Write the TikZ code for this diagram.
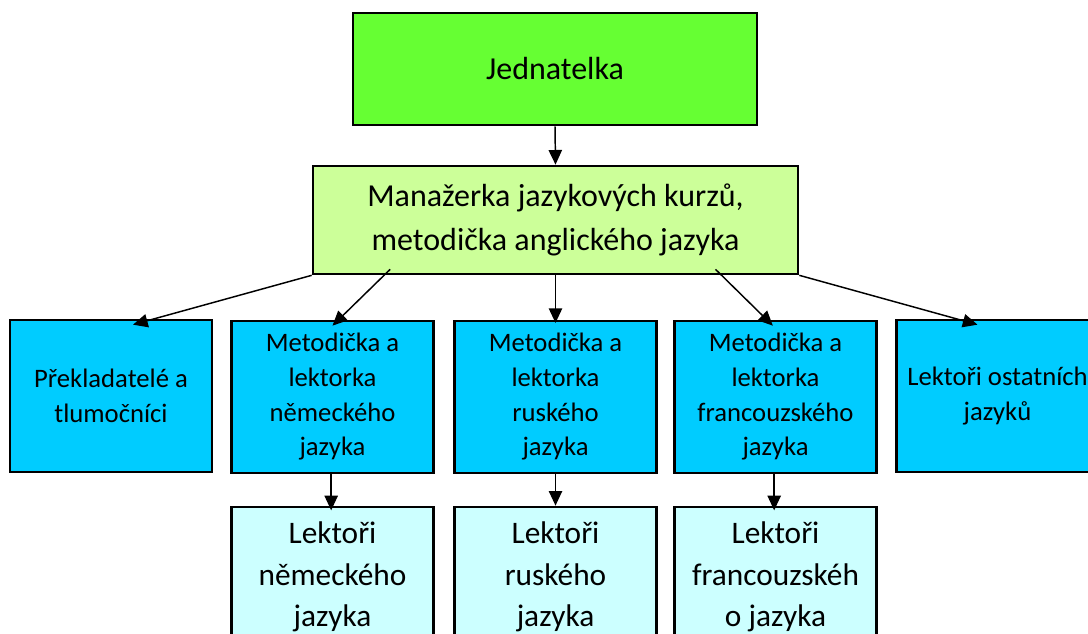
\documentclass[tikz,border=0pt]{standalone}
\usepackage{fontspec}
\setmainfont{Carlito}
\usetikzlibrary{arrows.meta}

\definecolor{jedgreen}{RGB}{102,255,51}
\definecolor{mangreen}{RGB}{204,255,153}
\definecolor{lektblue}{RGB}{0,204,255}
\definecolor{lektcyan}{RGB}{204,255,255}

\tikzset{every picture/.style={line width=0.75pt}}
\tikzset{
  orgbox/.style={draw=black, line width=2pt, rectangle, align=center, inner sep=2pt},
  topbox/.style={orgbox, minimum width=303pt, minimum height=84pt, font=\fontsize{24}{33}\selectfont},
  midbox/.style={orgbox, fill=lektblue, minimum width=151.5pt, minimum height=114pt, font=\fontsize{20}{26}\selectfont},
  lowbox/.style={orgbox, fill=lektcyan, minimum width=151.5pt, minimum height=105pt, font=\fontsize{23.5}{31}\selectfont},
  orgarrow/.style={draw=black, line width=1.1pt, -{Triangle[length=11pt,width=10pt]}}
}

\begin{document}
\begin{tikzpicture}[x=0.75pt,y=0.75pt,yscale=-1,xscale=1]
\clip (0,0) rectangle (1088,634);

% Text Node
\node [topbox, fill=jedgreen] (jed) at (555,69) {Jednatelka};
% Text Node
\node [topbox, fill=mangreen, minimum width=363.75pt, minimum height=81pt] (man) at (555.5,220) {\raisebox{-3pt}{Manažerka jazykových kurzů,}\\\raisebox{-3pt}{metodička anglického jazyka}};

% Text Node
\node [midbox] (prek) at (111,396) {Překladatelé a\\tlumočníci};
% Text Node
\node [midbox] (nem) at (332.5,397) {Metodička a\\lektorka\\německého\\jazyka};
% Text Node
\node [midbox] (rus) at (555.5,397) {Metodička a\\lektorka\\ruského\\jazyka};
% Text Node
\node [midbox] (fra) at (775.5,397) {Metodička a\\lektorka\\francouzského\\jazyka};
% Text Node
\node [midbox] (ost) at (997.5,396) {Lektoři ostatních\\jazyků};

% Text Node
\node [lowbox] (lnem) at (332.5,577) {Lektoři\\německého\\jazyka};
% Text Node
\node [lowbox] (lrus) at (555.5,577) {Lektoři\\ruského\\jazyka};
% Text Node
\node [lowbox] (lfra) at (775.5,577) {Lektoři\\francouzskéh\\o jazyka};

%Straight Lines
\draw [orgarrow] (jed.south) -- (man.north);
\draw [orgarrow] (man.south west) -- ([xshift=16.5pt,yshift=4.5pt]prek.north);
\draw [orgarrow] ([xshift=-124pt,yshift=-4.5pt]man.south) -- ([yshift=4.5pt]nem.north);
\draw [orgarrow] (man.south) -- ([yshift=2.5pt]rus.north);
\draw [orgarrow] ([xshift=120pt,yshift=-4.5pt]man.south) -- ([xshift=-2pt,yshift=4.5pt]fra.north);
\draw [orgarrow] (man.south east) -- ([xshift=-15pt,yshift=4.5pt]ost.north);

%Straight Lines
\draw [orgarrow] ([xshift=-1pt]nem.south) -- ([xshift=-1pt,yshift=3.5pt]lnem.north);
\draw [orgarrow] (rus.south) -- (lrus.north);
\draw [orgarrow] ([xshift=-1pt]fra.south) -- ([xshift=-1pt,yshift=3.5pt]lfra.north);

\end{tikzpicture}
\end{document}
